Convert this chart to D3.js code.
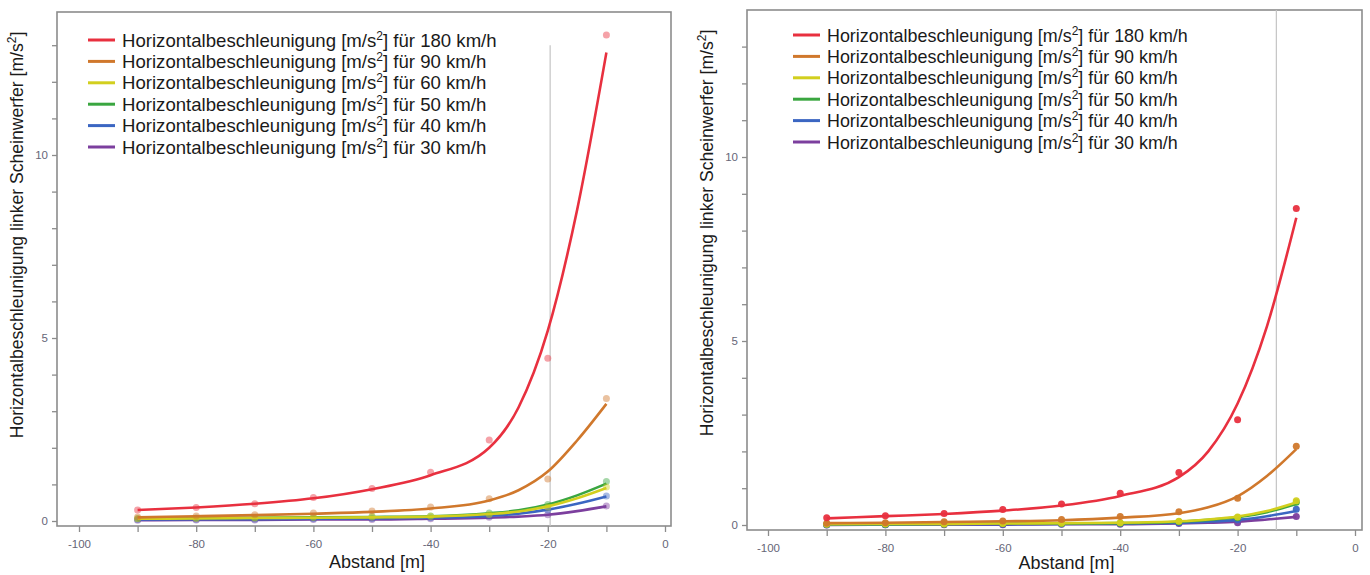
<!DOCTYPE html>
<html>
<head><meta charset="utf-8"></head>
<body style="margin:0;background:#fff">
<svg id="chart" width="1370" height="575"></svg>
<script src="https://cdn.jsdelivr.net/npm/d3@7"></script>
<script>

// measured distances (x) and the x positions where the fitted curves were read
var distances = [-90, -80, -70, -60, -50, -40, -30, -20, -10];
var fitDistances = [-90, -80, -70, -60, -50, -40, -30, -25, -20, -15, -10];

var speeds = ["180", "90", "60", "50", "40", "30"];
var colors = ["#e8303f", "#d0782c", "#d2cf1e", "#3aa640", "#3b66c2", "#7c3f9e"];

// left chart: measured points
var leftPts180 = [0.30, 0.37, 0.47, 0.64, 0.89, 1.33, 2.21, 4.45, 13.28];
var leftPts90  = [0.11, 0.14, 0.17, 0.22, 0.27, 0.38, 0.61, 1.15, 3.35];
var leftPts60  = [0.06, 0.07, 0.08, 0.10, 0.11, 0.13, 0.18, 0.38, 0.93];
var leftPts50  = [0.07, 0.08, 0.09, 0.10, 0.12, 0.14, 0.22, 0.45, 1.08];
var leftPts40  = [0.04, 0.05, 0.05, 0.06, 0.07, 0.09, 0.14, 0.30, 0.68];
var leftPts30  = [0.02, 0.03, 0.03, 0.04, 0.04, 0.06, 0.10, 0.17, 0.41];

// left chart: fitted curves
var leftFit180 = [0.30, 0.37, 0.47, 0.62, 0.87, 1.25, 2.00, 3.10, 5.20, 8.50, 12.80];
var leftFit90  = [0.10, 0.13, 0.16, 0.20, 0.25, 0.34, 0.56, 0.84, 1.35, 2.20, 3.20];
var leftFit60  = [0.06, 0.07, 0.08, 0.09, 0.10, 0.12, 0.19, 0.26, 0.40, 0.62, 0.90];
var leftFit50  = [0.07, 0.08, 0.09, 0.10, 0.11, 0.13, 0.21, 0.29, 0.45, 0.70, 1.02];
var leftFit40  = [0.04, 0.05, 0.05, 0.06, 0.07, 0.09, 0.14, 0.20, 0.31, 0.47, 0.67];
var leftFit30  = [0.02, 0.03, 0.03, 0.04, 0.04, 0.06, 0.09, 0.12, 0.17, 0.27, 0.40];

// right chart: measured points
var rightPts180 = [0.20, 0.25, 0.31, 0.42, 0.57, 0.86, 1.43, 2.86, 8.60];
var rightPts90  = [0.05, 0.06, 0.09, 0.11, 0.15, 0.23, 0.36, 0.73, 2.14];
var rightPts60  = [0.02, 0.03, 0.03, 0.04, 0.05, 0.06, 0.10, 0.22, 0.66];
var rightPts50  = [0.02, 0.02, 0.03, 0.04, 0.04, 0.05, 0.09, 0.20, 0.62];
var rightPts40  = [0.01, 0.01, 0.02, 0.02, 0.03, 0.04, 0.06, 0.14, 0.43];
var rightPts30  = [0.00, 0.01, 0.01, 0.01, 0.02, 0.02, 0.04, 0.06, 0.23];

// right chart: fitted curves
var rightFit180 = [0.18, 0.24, 0.30, 0.39, 0.53, 0.79, 1.30, 2.00, 3.30, 5.40, 8.35];
var rightFit90  = [0.05, 0.06, 0.08, 0.10, 0.13, 0.20, 0.32, 0.48, 0.78, 1.33, 2.06];
var rightFit60  = [0.02, 0.03, 0.03, 0.04, 0.05, 0.06, 0.10, 0.15, 0.23, 0.38, 0.61];
var rightFit50  = [0.02, 0.02, 0.03, 0.04, 0.04, 0.05, 0.09, 0.14, 0.21, 0.35, 0.57];
var rightFit40  = [0.01, 0.01, 0.02, 0.02, 0.03, 0.04, 0.06, 0.09, 0.14, 0.24, 0.38];
var rightFit30  = [0.00, 0.01, 0.01, 0.01, 0.02, 0.02, 0.04, 0.06, 0.09, 0.15, 0.22];

var xTicks = d3.range(-100, 1, 10);
var yTicks = d3.range(0, 14, 1);

var panels = [
  { left: 57, right: 671, top: 12, bottom: 526, x0: 79, x100: 665, y0: 521, y10: 155,
    marker: -19.6, markerTop: 13.0, ptOpacity: 0.45,
    legendX: 88, legendY: 40, legendFont: 18.6, titleY: 568,
    pts: [leftPts180, leftPts90, leftPts60, leftPts50, leftPts40, leftPts30],
    fit: [leftFit180, leftFit90, leftFit60, leftFit50, leftFit40, leftFit30] },
  { left: 747, right: 1362, top: 10, bottom: 530, x0: 768, x100: 1355, y0: 525, y10: 157,
    marker: -13.4, markerTop: null, ptOpacity: 0.95,
    legendX: 793, legendY: 35, legendFont: 17.9, titleY: 569,
    pts: [rightPts180, rightPts90, rightPts60, rightPts50, rightPts40, rightPts30],
    fit: [rightFit180, rightFit90, rightFit60, rightFit50, rightFit40, rightFit30] }
];

var svg = d3.select("#chart")
    .style("font-family", "'Liberation Sans', Arial, sans-serif");

panels.forEach(function(p) {
  var x = d3.scaleLinear().domain([-100, 0]).range([p.x0, p.x100]);
  var y = d3.scaleLinear().domain([0, 10]).range([p.y0, p.y10]);
  var g = svg.append("g");

  // frame
  g.append("rect")
      .attr("x", p.left).attr("y", p.top)
      .attr("width", p.right - p.left).attr("height", p.bottom - p.top)
      .attr("fill", "none").attr("stroke", "#8c8c8c").attr("stroke-width", 1.6);

  // axes
  var xAxis = g.append("g")
      .attr("transform", "translate(0," + p.bottom + ")")
      .call(d3.axisBottom(x).tickValues(xTicks).tickSize(6).tickPadding(8)
        .tickFormat(function(d) { return d % 20 === 0 ? d : ""; }));
  var yAxis = g.append("g")
      .attr("transform", "translate(" + p.left + ",0)")
      .call(d3.axisLeft(y).tickValues(yTicks).tickSize(5).tickPadding(4)
        .tickFormat(function(d) { return d % 5 === 0 ? d : ""; }));
  [xAxis, yAxis].forEach(function(a) {
    a.select(".domain").remove();
    a.selectAll("line").attr("stroke", "#8c8c8c").attr("stroke-width", 1.3);
    a.selectAll("text").attr("fill", "#666677").style("font-size", "11.5px")
        .style("font-family", "'Liberation Sans', Arial, sans-serif");
  });

  // vertical marker line
  g.append("line")
      .attr("x1", x(p.marker)).attr("x2", x(p.marker))
      .attr("y1", p.markerTop === null ? p.top : y(p.markerTop)).attr("y2", p.bottom)
      .attr("stroke", "#c4c4c4").attr("stroke-width", 1.2);

  var line = d3.line()
      .x(function(d, i) { return x(fitDistances[i]); })
      .y(function(d) { return y(d); })
      .curve(d3.curveMonotoneX);

  // draw slowest first so that 180 km/h ends on top
  d3.range(speeds.length).reverse().forEach(function(k) {
    g.selectAll(".pt" + k)
        .data(p.pts[k])
      .enter().append("circle")
        .attr("cx", function(d, i) { return x(distances[i]); })
        .attr("cy", function(d) { return y(d); })
        .attr("r", 3.5)
        .attr("fill", colors[k])
        .attr("fill-opacity", p.ptOpacity);
    g.append("path")
        .datum(p.fit[k])
        .attr("d", line)
        .attr("fill", "none")
        .attr("stroke", colors[k])
        .attr("stroke-width", 2.6);
  });

  // legend
  speeds.forEach(function(s, k) {
    var ly = p.legendY + k * 21.4;
    g.append("line")
        .attr("x1", p.legendX).attr("x2", p.legendX + 27)
        .attr("y1", ly).attr("y2", ly)
        .attr("stroke", colors[k]).attr("stroke-width", 3);
    var t = g.append("text")
        .attr("x", p.legendX + 34).attr("y", ly + 6.5)
        .attr("fill", "#1a1a1a").style("font-size", p.legendFont + "px");
    t.append("tspan").text("Horizontalbeschleunigung [m/s");
    t.append("tspan").attr("dy", -7).style("font-size", "12px").text("2");
    t.append("tspan").attr("dy", 7).text("] für " + s + " km/h");
  });

  // axis titles
  g.append("text")
      .attr("x", x(-50) + 5).attr("y", p.titleY)
      .attr("text-anchor", "middle").attr("fill", "#1a1a1a")
      .style("font-size", "18px")
      .text("Abstand [m]");

  var yt = g.append("text")
      .attr("transform", "translate(" + (p.left - 34) + "," + (p.top + 223) + ") rotate(-90)")
      .attr("text-anchor", "middle").attr("fill", "#1a1a1a")
      .style("font-size", "17.6px");
  yt.append("tspan").text("Horizontalbeschleunigung linker Scheinwerfer  [m/s");
  yt.append("tspan").attr("dy", -7).style("font-size", "12px").text("2");
  yt.append("tspan").attr("dy", 7).text("]");
});

</script>
</body>
</html>
